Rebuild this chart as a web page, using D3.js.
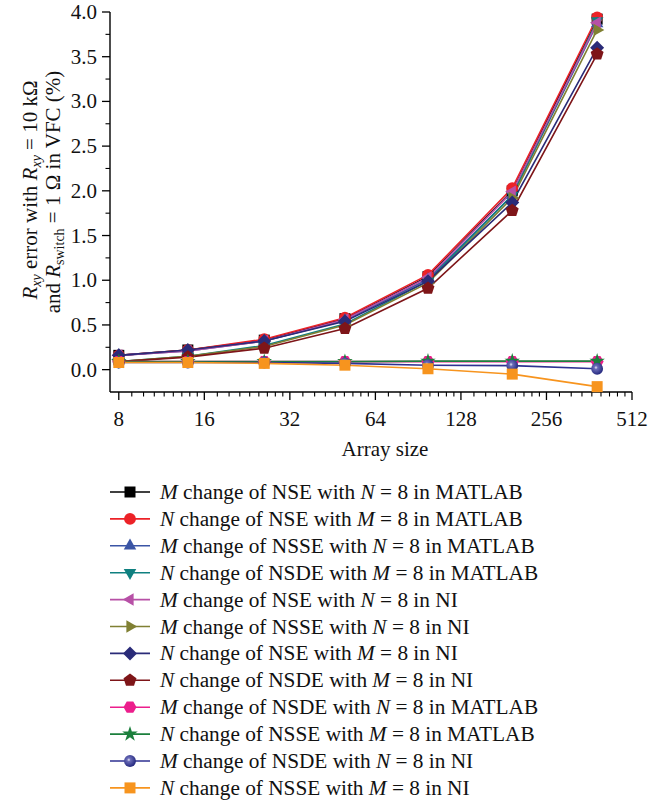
<!DOCTYPE html>
<html><head><meta charset="utf-8">
<script src="https://cdn.jsdelivr.net/npm/d3@7"></script>
<style>body{margin:0;background:#fff}svg{display:block}text{font-family:"Liberation Serif","Times New Roman",serif;fill:#111}</style>
</head><body><svg id="c" width="669" height="803"></svg>
<script>
const arraySizes = [8, 14, 26, 50, 98, 194, 386];
const xTickValues = [8, 16, 32, 64, 128, 256, 512];
const yTickValues = [0, 0.5, 1, 1.5, 2, 2.5, 3, 3.5, 4];

const sNames = [
  ["M","NSE","N","MATLAB"],["N","NSE","M","MATLAB"],["M","NSSE","N","MATLAB"],["N","NSDE","M","MATLAB"],
  ["M","NSE","N","NI"],["M","NSSE","N","NI"],["N","NSE","M","NI"],["N","NSDE","M","NI"],
  ["M","NSDE","N","MATLAB"],["N","NSSE","M","MATLAB"],["M","NSDE","N","NI"],["N","NSSE","M","NI"]
];
const sColors = ["#000000","#ec2227","#3b55a5","#0f8080","#b750a6","#808033","#2a2b78","#7e1518","#ec1e8c","#1b7f3c","#2e3192","#f7941e"];
const sMarkers = ["square","circle","triUp","triDown","triLeft","triRight","diamond","pentagon","hexagon","star","sphere","square"];

const mNSE_MATLAB  = [0.16, 0.22, 0.33, 0.57, 1.04, 2.00, 3.92];
const nNSE_MATLAB  = [0.16, 0.22, 0.34, 0.58, 1.06, 2.03, 3.94];
const mNSSE_MATLAB = [0.16, 0.21, 0.32, 0.55, 1.01, 1.95, 3.87];
const nNSDE_MATLAB = [0.09, 0.15, 0.27, 0.51, 0.99, 1.95, 3.90];
const mNSE_NI      = [0.16, 0.21, 0.32, 0.56, 1.03, 1.99, 3.88];
const mNSSE_NI     = [0.09, 0.15, 0.26, 0.50, 0.97, 1.92, 3.80];
const nNSE_NI      = [0.16, 0.22, 0.32, 0.54, 0.99, 1.87, 3.60];
const nNSDE_NI     = [0.09, 0.14, 0.24, 0.46, 0.91, 1.78, 3.53];
const mNSDE_MATLAB = [0.09, 0.09, 0.09, 0.09, 0.09, 0.09, 0.09];
const nNSSE_MATLAB = [0.09, 0.09, 0.09, 0.09, 0.095, 0.095, 0.095];
const mNSDE_NI     = [0.08, 0.08, 0.08, 0.07, 0.05, 0.045, 0.01];
const nNSSE_NI     = [0.08, 0.08, 0.07, 0.05, 0.01, -0.05, -0.19];
const seriesValues = [mNSE_MATLAB,nNSE_MATLAB,mNSSE_MATLAB,nNSDE_MATLAB,mNSE_NI,mNSSE_NI,nNSE_NI,nNSDE_NI,mNSDE_MATLAB,nNSSE_MATLAB,mNSDE_NI,nNSSE_NI];

const svg = d3.select("#c");
const defs = svg.append("defs");
const grad = defs.append("radialGradient").attr("id","sph").attr("cx","0.4").attr("cy","0.4").attr("r","0.6");
grad.append("stop").attr("offset","0").attr("stop-color","#e8e8f5");
grad.append("stop").attr("offset","0.25").attr("stop-color","#6a6cb8");
grad.append("stop").attr("offset","1").attr("stop-color","#262a80");

const x = d3.scaleLog().base(2).domain([7.45, 512]).range([110, 632]);
const y = d3.scaleLinear().domain([-0.25, 4]).range([392, 12]);

function poly(n, r, rotDeg){
  const pts = d3.range(n).map(i => {const a = (rotDeg + i*360/n)*Math.PI/180; return [r*Math.cos(a), r*Math.sin(a)];});
  return "M" + pts.map(p => p[0].toFixed(2)+","+p[1].toFixed(2)).join("L") + "Z";
}
function markerPath(t){
  switch(t){
    case "square": return "M-5.5,-5.5H5.5V5.5H-5.5Z";
    case "circle": return d3.symbol(d3.symbolCircle, 110)();
    case "sphere": return d3.symbol(d3.symbolCircle, 110)();
    case "triUp": return poly(3, 7.2, -90);
    case "triDown": return poly(3, 7.2, 90);
    case "triLeft": return poly(3, 7.2, 180);
    case "triRight": return poly(3, 7.2, 0);
    case "diamond": return poly(4, 7, 0);
    case "pentagon": return poly(5, 6.8, -90);
    case "hexagon": return poly(6, 6.5, 0);
    case "star": return d3.symbol(d3.symbolStar, 75)();
  }
}
function drawMarker(g, t, color, cx, cy){
  g.append("path").attr("d", markerPath(t)).attr("transform", `translate(${cx},${cy})`)
    .attr("fill", t === "sphere" ? "url(#sph)" : color);
}

const FS = 21;
// axes
const gx = svg.append("g");
gx.append("line").attr("x1",110).attr("x2",632).attr("y1",392).attr("y2",392).attr("stroke","#000").attr("stroke-width",1.4);
const minorX = [];
xTickValues.slice(0,-1).forEach(a => { for(let k=1;k<=8;k++) minorX.push(a + k*a/9); });
gx.selectAll(".mx").data(minorX).join("line").attr("x1",d=>x(d)).attr("x2",d=>x(d)).attr("y1",392).attr("y2",396.5).attr("stroke","#000").attr("stroke-width",1.1);
gx.selectAll(".Mx").data(xTickValues).join("line").attr("x1",d=>x(d)).attr("x2",d=>x(d)).attr("y1",392).attr("y2",400).attr("stroke","#000").attr("stroke-width",1.3);
gx.selectAll(".tx").data(xTickValues).join("text").attr("x",d=>x(d)).attr("y",426).attr("text-anchor","middle").attr("font-size",FS).text(d=>d);
svg.append("text").attr("x",385).attr("y",456).attr("text-anchor","middle").attr("font-size",FS).text("Array size");

const gy = svg.append("g");
gy.append("line").attr("x1",110).attr("x2",110).attr("y1",12).attr("y2",392).attr("stroke","#000").attr("stroke-width",1.4);
const minorY = yTickValues.slice(0,-1).map(v => v + 0.25);
gy.selectAll(".my").data(minorY).join("line").attr("x1",105.5).attr("x2",110).attr("y1",d=>y(d)).attr("y2",d=>y(d)).attr("stroke","#000").attr("stroke-width",1.1);
gy.selectAll(".My").data(yTickValues).join("line").attr("x1",102).attr("x2",110).attr("y1",d=>y(d)).attr("y2",d=>y(d)).attr("stroke","#000").attr("stroke-width",1.3);
gy.selectAll(".ty").data(yTickValues).join("text").attr("x",97).attr("y",d=>y(d)+7).attr("text-anchor","end").attr("font-size",FS).text(d=>d.toFixed(1));

// y label
const SUB = 14;
const yl = svg.append("text").attr("transform","translate(37,190) rotate(-90)").attr("text-anchor","middle").attr("font-size",FS);
yl.append("tspan").attr("font-style","italic").text("R");
yl.append("tspan").attr("font-style","italic").attr("font-size",SUB).attr("dy",4).text("xy");
yl.append("tspan").attr("dy",-4).text(" error with ");
yl.append("tspan").attr("font-style","italic").text("R");
yl.append("tspan").attr("font-style","italic").attr("font-size",SUB).attr("dy",4).text("xy");
yl.append("tspan").attr("dy",-4).text(" = 10 kΩ");
const yl2 = svg.append("text").attr("transform","translate(60,192) rotate(-90)").attr("text-anchor","middle").attr("font-size",FS);
yl2.append("tspan").text("and ");
yl2.append("tspan").attr("font-style","italic").text("R");
yl2.append("tspan").attr("font-size",SUB).attr("dy",4).text("switch");
yl2.append("tspan").attr("dy",-4).text(" = 1 Ω in VFC (%)");

// series
const line = d3.line().x((d,i)=>x(arraySizes[i])).y(d=>y(d));
const plot = svg.append("g");
seriesValues.forEach((vals, s) => {
  plot.append("path").attr("d", line(vals)).attr("fill","none").attr("stroke",sColors[s]).attr("stroke-width",1.6);
});
seriesValues.forEach((vals, s) => {
  vals.forEach((v,i) => drawMarker(plot, sMarkers[s], sColors[s], x(arraySizes[i]), y(v)));
});

// legend
const lg = svg.append("g");
sNames.forEach((nm, s) => {
  const cy = 492 + s*26.9;
  lg.append("line").attr("x1",110).attr("x2",150).attr("y1",cy).attr("y2",cy).attr("stroke",sColors[s]).attr("stroke-width",1.6);
  drawMarker(lg, sMarkers[s], sColors[s], 130, cy);
  const t = lg.append("text").attr("x",160).attr("y",cy+7).attr("font-size",21.3);
  t.append("tspan").attr("font-style","italic").text(nm[0]);
  t.append("tspan").text(" change of " + nm[1] + " with ");
  t.append("tspan").attr("font-style","italic").text(nm[2]);
  t.append("tspan").text(" = 8 in " + nm[3]);
});
</script></body></html>
